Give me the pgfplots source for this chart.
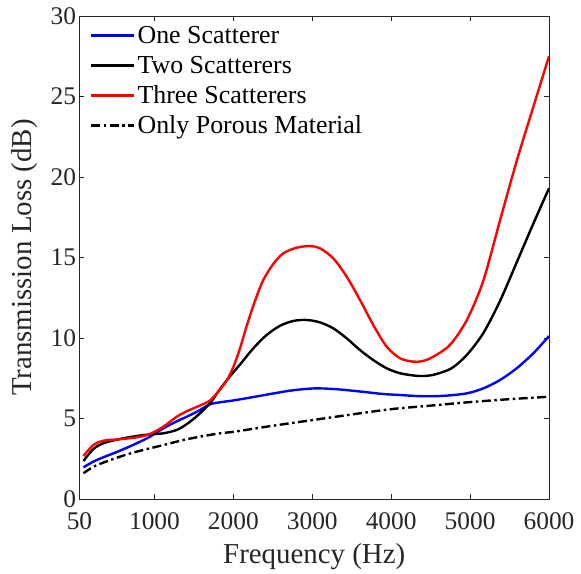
\documentclass[border=0pt]{standalone}
\usepackage{pgfplots}
\pgfplotsset{compat=1.18}
\usepackage{fontspec}
\setmainfont{Liberation Serif}
\definecolor{axgray}{RGB}{38,38,38}
\definecolor{mblue}{RGB}{0,0,255}
\definecolor{mred}{RGB}{255,0,0}
\begin{document}
\begin{tikzpicture}
\begin{axis}[
  scale only axis,
  width=469.5bp, height=483bp,
  xmin=50, xmax=6000, ymin=0, ymax=30,
  xtick={50,1000,2000,3000,4000,5000,6000},
  ytick={0,5,10,15,20,25,30},
  tick align=inside,
  major tick length=5bp,
  axis line style={axgray, line width=0.9bp},
  every tick/.style={axgray, line width=0.9bp},
  /pgf/number format/assume math mode=true,
  /pgf/number format/1000 sep={},
  tick label style={font=\fontsize{25.5}{30}\selectfont, text=axgray},
  xticklabel style={yshift=-10bp},
  xlabel={Frequency (Hz)},
  ylabel={Transmission Loss (dB)},
  label style={font=\fontsize{29}{34}\selectfont, text=axgray},
  xlabel style={at={(axis description cs:0.5,0)}, anchor=base, yshift=-64bp},
  ylabel style={at={(axis description cs:-0.1022,0.5)}, anchor=base},
  legend cell align=left,
  legend image code/.code={\draw[#1] (0bp,0bp) -- (43bp,0bp);},
  legend style={at={(axis description cs:0,1)}, anchor=north west,
    xshift=10.5bp, yshift=-7.5bp, draw=none, fill=none, inner sep=0pt,
    font=\fontsize{26}{30}\selectfont, text=black,
    column sep=0bp, row sep=6.5bp,
    cells={anchor=west, inner xsep=1bp, inner ysep=0bp, text height=18bp, text depth=6bp}},
]
\addplot[mblue, line width=2.4bp, smooth] coordinates {
(100,1.97) (225,2.32) (352,2.59) (563,3.0) (775,3.46) (943,3.87) (1112,4.39)
(1282,4.82) (1409,5.11) (1550,5.45) (1704,5.88) (1850,6.02) (2000,6.12)
(2250,6.33) (2500,6.55) (2750,6.75) (3034,6.87) (3300,6.82) (3600,6.68)
(3900,6.52) (4112,6.46) (4300,6.4) (4492,6.38) (4700,6.42) (4957,6.56)
(5167,6.87) (5379,7.39) (5591,8.12) (5801,9.05) (6000,10.12)};
\addlegendentry{One Scatterer}
\addplot[black, line width=2.4bp, smooth] coordinates {
(100,2.36) (225,3.1) (352,3.46) (563,3.73) (775,3.91) (943,4.02) (1112,4.08)
(1282,4.29) (1409,4.65) (1550,5.2) (1704,5.95) (1830,6.82) (1957,7.62)
(2084,8.35) (2253,9.36) (2422,10.19) (2591,10.76) (2760,11.06) (2929,11.12)
(3098,10.97) (3266,10.6) (3436,9.98) (3605,9.25) (3773,8.63) (3943,8.12)
(4112,7.81) (4303,7.66) (4420,7.64) (4557,7.74) (4765,8.12) (4957,8.94)
(5167,10.3) (5379,12.3) (5591,14.7) (5801,17.1) (6000,19.3)};
\addlegendentry{Two Scatterers}
\addplot[mred, line width=2.4bp, smooth] coordinates {
(100,2.67) (225,3.35) (352,3.62) (563,3.71) (775,3.83) (943,4.04) (1112,4.49)
(1282,5.11) (1409,5.45) (1550,5.75) (1704,6.12) (1830,6.8) (1915,7.35)
(2000,8.2) (2084,9.35) (2169,10.75) (2274,12.3) (2379,13.6) (2506,14.6)
(2633,15.26) (2803,15.61) (2971,15.71) (3098,15.57) (3266,14.95) (3436,13.81)
(3605,12.36) (3773,10.81) (3943,9.46) (4112,8.74) (4280,8.53) (4400,8.57)
(4534,8.84) (4745,9.57) (4957,11.1) (5167,13.55) (5379,17.3) (5591,21.0)
(5801,24.35) (6000,27.5)};
\addlegendentry{Three Scatterers}
\addplot[black, line width=2.4bp, smooth, dash pattern=on 9bp off 3.5bp on 2.5bp off 3.5bp] coordinates {
(100,1.6) (225,2.0) (352,2.26) (563,2.63) (775,2.94) (1112,3.35) (1409,3.71)
(1788,4.05) (2000,4.17) (2210,4.33) (2500,4.55) (3000,4.9) (3500,5.25)
(4000,5.58) (4500,5.8) (5000,6.02) (5500,6.2) (6000,6.35)};
\addlegendentry{Only Porous Material}
\end{axis}
\path ([shift={(-79.5bp,-75bp)}]current axis.south west) rectangle ([shift={(32bp,16bp)}]current axis.north east);
\end{tikzpicture}
\end{document}
